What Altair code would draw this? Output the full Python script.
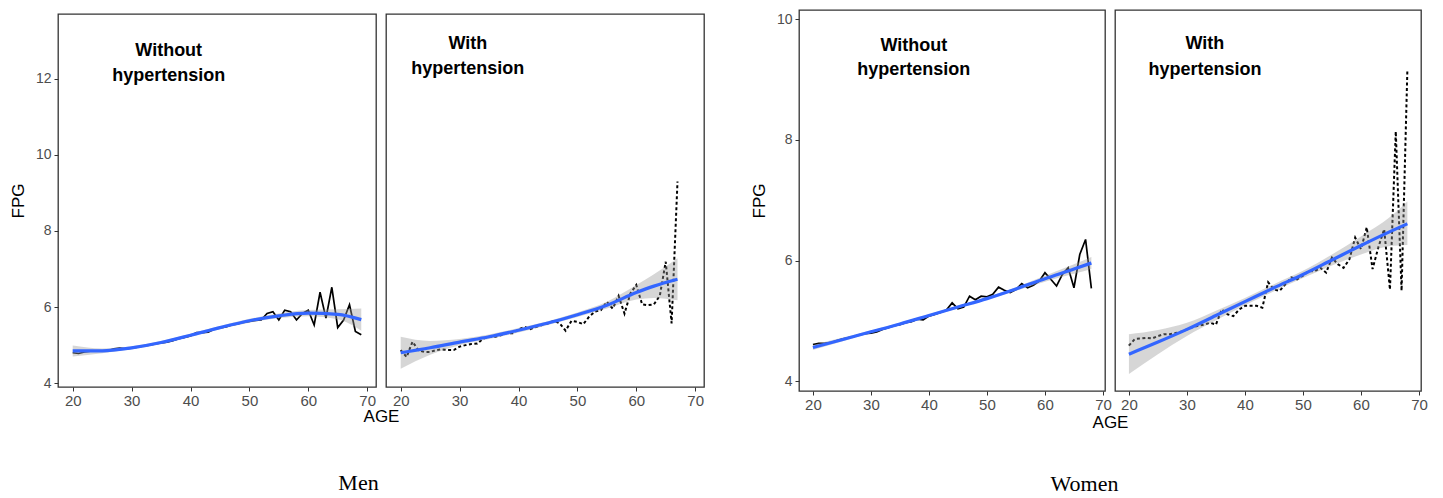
import altair as alt
import pandas as pd

# ---------------- data ----------------
X_TICKS = [20, 30, 40, 50, 60, 70]
Y_TICKS_MEN = [4, 6, 8, 10, 12]
Y_TICKS_WOMEN = [4, 6, 8, 10]
PANEL_LABELS = [["Without", "hypertension"], ["With", "hypertension"]]
GROUP_CAPTIONS = ["Men", "Women"]

# Men, without hypertension (solid)
AGES_MEN_NO = list(range(20, 70))
FPG_MEN_NO = [4.80, 4.78, 4.82, 4.84, 4.85, 4.84, 4.86, 4.90, 4.92, 4.90,
              4.93, 4.95, 4.98, 5.00, 5.03, 5.06, 5.08, 5.12, 5.17, 5.20,
              5.24, 5.33, 5.33, 5.34, 5.42, 5.45, 5.48, 5.53, 5.56, 5.60,
              5.62, 5.65, 5.66, 5.83, 5.88, 5.66, 5.92, 5.88, 5.66, 5.83,
              5.92, 5.53, 6.39, 5.71, 6.52, 5.46, 5.66, 6.06, 5.36, 5.27]
FIT_AGES_MEN_NO = [20, 25, 30, 35, 40, 45, 50, 55, 60, 65, 69]
FIT_MEN_NO = [4.85, 4.85, 4.93, 5.07, 5.26, 5.46, 5.64, 5.77, 5.84, 5.81, 5.67]
LO_MEN_NO = [4.70, 4.79, 4.89, 5.03, 5.22, 5.42, 5.59, 5.71, 5.76, 5.68, 5.38]
HI_MEN_NO = [4.99, 4.91, 4.97, 5.11, 5.30, 5.50, 5.69, 5.83, 5.92, 5.94, 5.96]

# Men, with hypertension (dashed)
AGES_MEN_HT = list(range(20, 68))
FPG_MEN_HT = [4.87, 4.69, 5.09, 4.87, 4.82, 4.82, 4.87, 4.89, 4.87, 4.87,
              4.96, 5.00, 5.03, 5.04, 5.17, 5.22, 5.22, 5.26, 5.32, 5.31,
              5.41, 5.48, 5.42, 5.48, 5.53, 5.57, 5.64, 5.57, 5.38, 5.64,
              5.61, 5.55, 5.75, 5.88, 5.92, 6.14, 5.96, 6.29, 5.83, 6.36,
              6.58, 6.07, 6.05, 6.07, 6.30, 7.19, 5.57, 9.30]
FIT_AGES_MEN_HT = [20, 25, 30, 35, 40, 45, 50, 55, 60, 63, 67]
FIT_MEN_HT = [4.80, 4.93, 5.08, 5.22, 5.39, 5.58, 5.80, 6.05, 6.38, 6.55, 6.73]
LO_MEN_HT = [4.38, 4.75, 5.00, 5.16, 5.33, 5.53, 5.74, 5.96, 6.20, 6.24, 6.18]
HI_MEN_HT = [5.22, 5.11, 5.16, 5.28, 5.45, 5.63, 5.86, 6.14, 6.58, 6.86, 7.28]

# Women, without hypertension (solid)
AGES_WOMEN_NO = list(range(20, 69))
FPG_WOMEN_NO = [4.61, 4.63, 4.63, 4.64, 4.67, 4.70, 4.72, 4.74, 4.77, 4.79,
                4.80, 4.82, 4.86, 4.89, 4.92, 4.94, 4.97, 4.99, 5.03, 5.02,
                5.08, 5.11, 5.14, 5.18, 5.30, 5.20, 5.23, 5.41, 5.35, 5.41,
                5.40, 5.44, 5.56, 5.51, 5.47, 5.52, 5.62, 5.55, 5.59, 5.66,
                5.80, 5.69, 5.58, 5.77, 5.88, 5.55, 6.10, 6.35, 5.54]
FIT_AGES_WOMEN_NO = [20, 25, 30, 35, 40, 45, 50, 55, 60, 65, 68]
FIT_WOMEN_NO = [4.56, 4.69, 4.82, 4.95, 5.09, 5.23, 5.37, 5.53, 5.70, 5.86, 5.96]
LO_WOMEN_NO = [4.52, 4.66, 4.80, 4.93, 5.07, 5.21, 5.35, 5.50, 5.65, 5.78, 5.86]
HI_WOMEN_NO = [4.60, 4.72, 4.84, 4.97, 5.11, 5.25, 5.39, 5.56, 5.75, 5.94, 6.06]

# Women, with hypertension (dashed)
AGES_WOMEN_HT = list(range(20, 69))
FPG_WOMEN_HT = [4.59, 4.70, 4.71, 4.72, 4.71, 4.75, 4.78, 4.78, 4.80, 4.82,
                4.86, 4.90, 4.92, 4.94, 4.97, 4.94, 5.19, 5.11, 5.08, 5.19,
                5.25, 5.25, 5.25, 5.22, 5.64, 5.52, 5.50, 5.61, 5.72, 5.69,
                5.75, 5.83, 5.82, 5.88, 5.80, 6.05, 5.94, 5.88, 6.02, 6.38,
                6.19, 6.55, 5.86, 6.22, 6.52, 5.52, 8.14, 5.50, 9.16]
FIT_AGES_WOMEN_HT = [20, 25, 30, 35, 40, 45, 50, 55, 60, 65, 68]
FIT_WOMEN_HT = [4.45, 4.65, 4.86, 5.09, 5.32, 5.55, 5.77, 6.01, 6.25, 6.48, 6.61]
LO_WOMEN_HT = [4.12, 4.45, 4.75, 5.01, 5.26, 5.49, 5.71, 5.92, 6.10, 6.24, 6.26]
HI_WOMEN_HT = [4.78, 4.85, 4.97, 5.17, 5.38, 5.61, 5.83, 6.10, 6.40, 6.72, 6.98]

# label anchor positions (data coordinates)
LABEL_POS = {
    "men_no": (36.3, [12.73, 12.07]),
    "men_ht": (31.4, [12.91, 12.25]),
    "women_no": (37.4, [9.56, 9.16]),
    "women_ht": (33.1, [9.58, 9.16]),
}

MEN_XDOM = [17.5, 71.5]
MEN_YDOM = [3.9, 13.7]
WOMEN_XDOM = [17.6, 70.35]
WOMEN_YDOM = [3.84, 10.15]

SANS = "Liberation Sans"
SERIF = "Liberation Serif"


def panel(ages, fpg, fa, fit, lo, hi, lines, pos, xdom, ydom, w, h,
          yticks, dashed, xaxis, yaxis):
    sx = alt.Scale(domain=xdom, nice=False, zero=False)
    sy = alt.Scale(domain=ydom, nice=False, zero=False)
    x_enc = alt.X("AGE:Q", scale=sx, axis=xaxis)
    if yaxis is None:
        y_enc = alt.Y("FPG:Q", scale=sy, axis=None)
        ylo = alt.Y("lo:Q", scale=sy, axis=None)
    else:
        y_enc = alt.Y("FPG:Q", scale=sy, axis=yaxis)
        ylo = alt.Y("lo:Q", scale=sy, axis=yaxis)

    raw = pd.DataFrame({"AGE": ages, "FPG": fpg})
    sm = pd.DataFrame({"AGE": fa, "FPG": fit, "lo": lo, "hi": hi})
    lab = pd.DataFrame({"AGE": [pos[0]] * len(lines), "FPG": pos[1], "txt": lines})

    if dashed:
        raw_line = alt.Chart(raw).mark_line(color="black", strokeWidth=2, strokeDash=[3, 2.5])
    else:
        raw_line = alt.Chart(raw).mark_line(color="black", strokeWidth=1.7)
    raw_line = raw_line.encode(x=x_enc, y=y_enc)

    band = alt.Chart(sm).mark_area(color="#999999", opacity=0.4, interpolate="monotone").encode(
        x=x_enc, y=ylo, y2="hi:Q")
    blue = alt.Chart(sm).mark_line(color="#3366FF", strokeWidth=3.2, interpolate="monotone").encode(
        x=x_enc, y=y_enc)
    text = alt.Chart(lab).mark_text(font=SANS, fontSize=18, fontWeight="bold", color="black",
                                    align="center", baseline="middle").encode(
        x=x_enc, y=y_enc, text="txt:N")
    return alt.layer(raw_line, band, blue, text).properties(width=w, height=h)


def xaxis_left(w, ty):
    return alt.Axis(values=X_TICKS, title="AGE", titleX=w + 5, titleY=ty, titleAlign="center",
                    titleBaseline="middle", titleFont=SANS, titleFontSize=17,
                    titleFontWeight="normal", titleColor="black",
                    labelFontSize=15, labelPadding=2, tickSize=4)


def xaxis_right(caption, tx, ty):
    return alt.Axis(values=X_TICKS, title=caption, titleX=tx, titleY=ty, titleAlign="center",
                    titleBaseline="middle", titleFont=SERIF, titleFontSize=22,
                    titleFontWeight="normal", titleColor="black",
                    labelFontSize=15, labelPadding=2, tickSize=4)


def yaxis(ticks, h):
    return alt.Axis(values=ticks, title="FPG", titleX=-40, titleY=h / 2, titleAlign="center",
                    titleBaseline="middle", titleFont=SANS, titleFontSize=17,
                    titleFontWeight="normal", titleColor="black",
                    labelFontSize=14, labelPadding=3, tickSize=4)


MW, MH = 318, 373
WW, WH = 306, 381

m1 = panel(AGES_MEN_NO, FPG_MEN_NO, FIT_AGES_MEN_NO, FIT_MEN_NO, LO_MEN_NO, HI_MEN_NO,
           PANEL_LABELS[0], LABEL_POS["men_no"], MEN_XDOM, MEN_YDOM, MW, MH,
           Y_TICKS_MEN, False, xaxis_left(MW, 29), yaxis(Y_TICKS_MEN, MH))
m2 = panel(AGES_MEN_HT, FPG_MEN_HT, FIT_AGES_MEN_HT, FIT_MEN_HT, LO_MEN_HT, HI_MEN_HT,
           PANEL_LABELS[1], LABEL_POS["men_ht"], MEN_XDOM, MEN_YDOM, MW, MH,
           Y_TICKS_MEN, True, xaxis_right(GROUP_CAPTIONS[0], -28, 95), None)
w1 = panel(AGES_WOMEN_NO, FPG_WOMEN_NO, FIT_AGES_WOMEN_NO, FIT_WOMEN_NO, LO_WOMEN_NO, HI_WOMEN_NO,
           PANEL_LABELS[0], LABEL_POS["women_no"], WOMEN_XDOM, WOMEN_YDOM, WW, WH,
           Y_TICKS_WOMEN, False, xaxis_left(WW, 31), yaxis(Y_TICKS_WOMEN, WH))
w2 = panel(AGES_WOMEN_HT, FPG_WOMEN_HT, FIT_AGES_WOMEN_HT, FIT_WOMEN_HT, LO_WOMEN_HT, HI_WOMEN_HT,
           PANEL_LABELS[1], LABEL_POS["women_ht"], WOMEN_XDOM, WOMEN_YDOM, WW, WH,
           Y_TICKS_WOMEN, True, xaxis_right(GROUP_CAPTIONS[1], -31, 92), None)

spacer = alt.Chart(pd.DataFrame({"s": [0]})).mark_point(opacity=0).encode(
    x=alt.X("s:Q", axis=None), y=alt.Y("s:Q", axis=None)
).properties(width=75, height=WH, view=alt.ViewBackground(stroke="transparent"))

chart = alt.hconcat(m1, m2, spacer, w1, w2, spacing=10, bounds="flush", center=True).properties(
    padding={"left": 0, "top": 1, "right": 5, "bottom": 1}
).configure_view(
    stroke="#333333", strokeWidth=1.3
).configure_axis(
    grid=False, domain=False, tickColor="#333333", labelColor="#4d4d4d", labelFont=SANS
)

chart.save("out.html", embed_options={"renderer": "svg", "actions": False})
